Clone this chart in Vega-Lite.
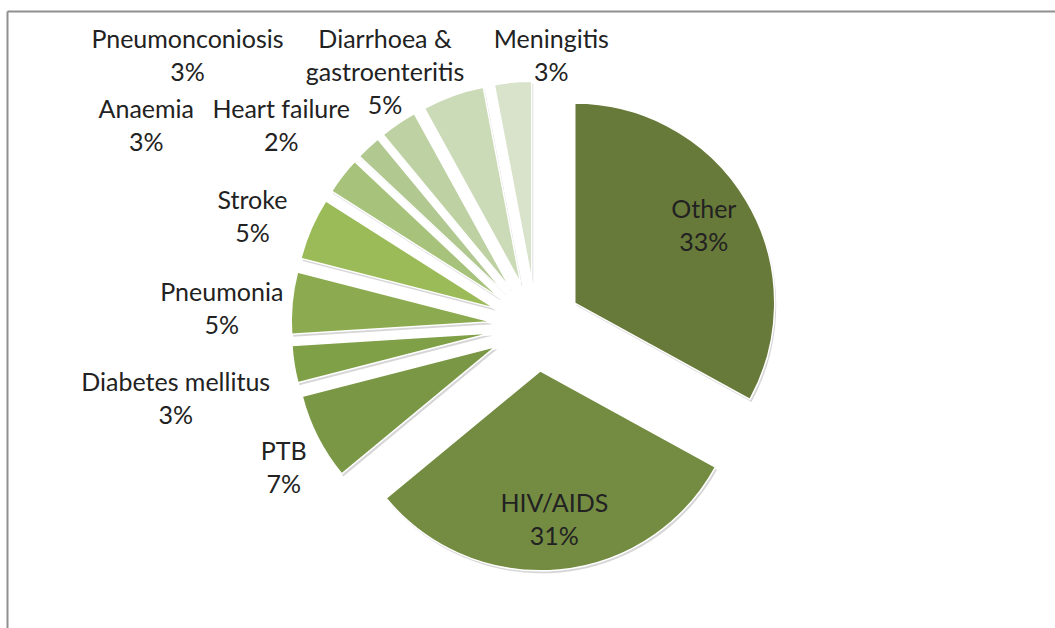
{
  "$schema": "https://vega.github.io/schema/vega-lite/v6.json",
  "width": 1048,
  "height": 617,
  "autosize": {"type": "none"},
  "padding": {"left": 7, "top": 11, "right": 0, "bottom": 0},
  "config": {"view": {"stroke": null}},
  "data": {
    "values": [
      {"cause": "Other", "value": 33},
      {"cause": "HIV/AIDS", "value": 31},
      {"cause": "PTB", "value": 7},
      {"cause": "Diabetes mellitus", "value": 3},
      {"cause": "Pneumonia", "value": 5},
      {"cause": "Stroke", "value": 5},
      {"cause": "Anaemia", "value": 3},
      {"cause": "Heart failure", "value": 2},
      {"cause": "Pneumonconiosis", "value": 3},
      {"cause": "Diarrhoea & gastroenteritis", "value": 5},
      {"cause": "Meningitis", "value": 3}
    ]
  },
  "transform": [
    {"window": [{"op": "sum", "field": "value", "as": "cum"}], "frame": [null, 0]},
    {"calculate": "datum.cum - datum.value", "as": "p0"},
    {"calculate": "PI*(datum.p0+datum.cum)/100", "as": "mid"},
    {"calculate": "45*sin(datum.mid)", "as": "ex"},
    {"calculate": "45*cos(datum.mid)", "as": "ey"}
  ],
  "layer": [
    {
      "mark": {"type": "arc", "radius": 200, "xOffset": 1.5, "yOffset": 2.5, "color": "#000000", "opacity": 0.16},
      "encoding": {
        "x": {"field": "ex", "type": "quantitative", "scale": {"domain": [-529, 519], "nice": false, "zero": false}, "axis": {"orient": "top", "domainColor": "#8f8f8f", "domainWidth": 2, "ticks": false, "labels": false, "grid": false, "title": null}},
        "y": {"field": "ey", "type": "quantitative", "scale": {"domain": [-302, 315], "nice": false, "zero": false}, "axis": {"orient": "left", "domainColor": "#8f8f8f", "domainWidth": 2, "ticks": false, "labels": false, "grid": false, "title": null}},
        "theta": {"field": "p0", "type": "quantitative", "scale": {"type": "linear", "domain": [0, 100], "range": [0, 6.283185307179586], "zero": false, "nice": false}},
        "theta2": {"field": "cum"}
      }
    },
    {
      "mark": {"type": "arc", "radius": 200, "stroke": "#ffffff", "strokeWidth": 1.5},
      "encoding": {
        "x": {"field": "ex", "type": "quantitative", "scale": {"domain": [-529, 519], "nice": false, "zero": false}, "axis": {"orient": "top", "domainColor": "#8f8f8f", "domainWidth": 2, "ticks": false, "labels": false, "grid": false, "title": null}},
        "y": {"field": "ey", "type": "quantitative", "scale": {"domain": [-302, 315], "nice": false, "zero": false}, "axis": {"orient": "left", "domainColor": "#8f8f8f", "domainWidth": 2, "ticks": false, "labels": false, "grid": false, "title": null}},
        "theta": {"field": "p0", "type": "quantitative", "scale": {"type": "linear", "domain": [0, 100], "range": [0, 6.283185307179586], "zero": false, "nice": false}},
        "theta2": {"field": "cum"},
        "color": {
          "field": "cause", "type": "nominal", "legend": null,
          "scale": {
            "domain": ["Other", "HIV/AIDS", "PTB", "Diabetes mellitus", "Pneumonia", "Stroke", "Anaemia", "Heart failure", "Pneumonconiosis", "Diarrhoea & gastroenteritis", "Meningitis"],
            "range": ["#687a39", "#748c42", "#7a9745", "#80a048", "#8cab50", "#9bbb59", "#a7c27a", "#b1c890", "#bdd1a2", "#cbdab7", "#d9e3cb"]
          }
        }
      }
    },
    {
      "transform": [
        {"calculate": "indexof(datum.cause, '& ')", "as": "amp"},
        {"calculate": "(datum.amp >= 0 ? substring(datum.cause, 0, datum.amp + 1) + '\\n' + substring(datum.cause, datum.amp + 2, length(datum.cause)) : datum.cause) + '\\n' + datum.value + '%'", "as": "lab"},
        {"calculate": "datum.amp >= 0 ? (datum.amp + 1 > length(datum.cause) - datum.amp - 2 ? datum.amp + 1 : length(datum.cause) - datum.amp - 2) : length(datum.cause)", "as": "maxlen"},
        {"calculate": "datum.maxlen * 6.25", "as": "hw"},
        {"calculate": "(datum.amp >= 0 ? 3 : 2) * 16.5", "as": "hh"},
        {"calculate": "length(datum.value + '%') * 6.25", "as": "hwl"},
        {"calculate": "datum.value > 20 ? 1 : 0", "as": "inside"},
        {"calculate": "datum.inside == 1 ? datum.mid : datum.mid - 0.05", "as": "la"},
        {"calculate": "datum.inside == 1 ? 150 : 212 + datum.hw * abs(sin(datum.la)) + datum.hh * abs(cos(datum.la))", "as": "ld"},
        {"calculate": "datum.ex + datum.ld * sin(datum.la)", "as": "nx"},
        {"calculate": "datum.ey + datum.ld * cos(datum.la)", "as": "ny"},
        {"calculate": "datum.inside == 1 ? 0 : (datum.ny + datum.hh > 283 ? 1 : (datum.ny + datum.hh > 170 ? 2 : 0))", "as": "tier"},
        {"calculate": "datum.nx + datum.hw", "as": "natR"},
        {"calculate": "2 * datum.hw + 10", "as": "wp"},
        {"window": [{"op": "sum", "field": "wp", "as": "Sinc"}], "groupby": ["tier"], "sort": [{"field": "cum", "order": "descending"}], "frame": [null, 0]},
        {"calculate": "datum.Sinc - datum.wp", "as": "S"},
        {"calculate": "datum.natR + datum.S", "as": "t1"},
        {"window": [{"op": "min", "field": "t1", "as": "m1"}], "groupby": ["tier"], "sort": [{"field": "cum", "order": "descending"}], "frame": [null, 0]},
        {"calculate": "datum.tier == 1 ? datum.m1 - datum.S - datum.hw : datum.nx", "as": "lx0"},
        {"calculate": "datum.lx0 - datum.nx", "as": "disp"},
        {"window": [{"op": "mean", "field": "disp", "as": "md"}], "groupby": ["tier"], "frame": [null, null]},
        {"calculate": "datum.tier == 1 ? datum.lx0 - 0.6 * datum.md : datum.nx", "as": "lx1"},
        {"calculate": "(datum.tier == 1 && (303 - 2 * datum.hh) < 233) ? datum.lx1 - datum.hwl - 10 : 99999", "as": "blk"},
        {"window": [{"op": "min", "field": "blk", "as": "bound"}], "frame": [null, null]},
        {"calculate": "(datum.tier == 2 && datum.bound < datum.natR) ? datum.bound : datum.natR", "as": "natR2"},
        {"calculate": "datum.natR2 + datum.S", "as": "t2"},
        {"window": [{"op": "min", "field": "t2", "as": "m2"}], "groupby": ["tier"], "sort": [{"field": "cum", "order": "descending"}], "frame": [null, 0]},
        {"calculate": "datum.tier == 2 ? datum.m2 - datum.S - datum.hw : datum.lx1", "as": "lx"},
        {"calculate": "datum.tier == 1 ? 303 - datum.hh : (datum.tier == 2 ? 233 - datum.hh : datum.ny)", "as": "ly"},
        {"calculate": "datum.ly + datum.hh - 16.5", "as": "lyt"}
      ],
      "mark": {"type": "text", "font": "Lato", "fontSize": 25, "lineHeight": 33, "lineBreak": "\n", "align": "center", "baseline": "middle", "color": "#222222"},
      "encoding": {
        "x": {"field": "lx", "type": "quantitative", "scale": {"domain": [-529, 519], "nice": false, "zero": false}, "axis": {"orient": "top", "domainColor": "#8f8f8f", "domainWidth": 2, "ticks": false, "labels": false, "grid": false, "title": null}},
        "y": {"field": "lyt", "type": "quantitative", "scale": {"domain": [-302, 315], "nice": false, "zero": false}, "axis": {"orient": "left", "domainColor": "#8f8f8f", "domainWidth": 2, "ticks": false, "labels": false, "grid": false, "title": null}},
        "text": {"field": "lab", "type": "nominal"}
      }
    }
  ]
}
